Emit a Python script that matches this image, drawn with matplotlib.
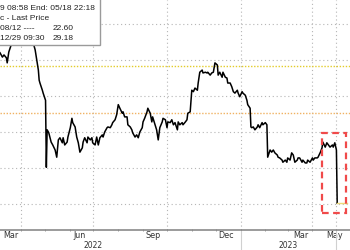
import matplotlib
matplotlib.use("Agg")
import matplotlib.pyplot as plt
import matplotlib.dates as mdates
import matplotlib.transforms as mtransforms
from matplotlib.patches import Rectangle
import pandas as pd

# price history (days counted from 2022-03-06)
start = pd.Timestamp("2022-03-06")
day_offsets = [0, 3, 5, 8, 9, 11, 14, 18, 23, 28, 33, 38, 41, 44, 46, 48, 49, 50, 53, 54,
               56, 57, 58, 59, 61, 64, 66, 69, 71, 73, 75, 78, 79, 81, 84, 85, 88, 90, 91,
               94, 96, 98, 100, 103, 104, 106, 109, 110, 113, 115, 116, 119, 121, 123,
               125, 128, 129, 131, 134, 135, 138, 140, 141, 144, 146, 148, 150, 153, 154,
               156, 159, 160, 163, 165, 166, 169, 171, 173, 175, 178, 179, 181, 184, 185,
               188, 190, 191, 194, 196, 198, 200, 203, 204, 207, 209, 210, 213, 215, 217,
               219, 222, 223, 225, 228, 229, 232, 234, 235, 238, 240, 242, 244, 247, 248,
               250, 253, 254, 257, 259, 260, 263, 265, 267, 269, 272, 273, 275, 278, 279,
               282, 284, 285, 288, 290, 292, 294, 297, 298, 300, 303, 304, 307, 309, 310,
               313, 314, 315, 317, 319, 322, 323, 325, 328, 329, 332, 334, 335, 338, 340,
               342, 344, 347, 348, 350, 353, 354, 357, 359, 360, 363, 365, 367, 369, 372,
               373, 375, 378, 379, 382, 384, 385, 388, 391, 392, 394, 397, 398, 401, 403,
               404, 407, 409, 411, 413, 416, 417, 419, 421, 422]
prices = [31.0, 30.4, 30.7, 30.3, 29.6, 31.1, 32.1, 33.1, 33.8, 34.2, 33.9, 33.3, 32.6, 31.4,
          30.0, 28.6, 27.2, 26.8, 25.8, 25.4,
          24.7, 24.4, 15.1, 20.3, 19.9, 18.6, 18.2, 17.5, 16.5, 18.9, 19.2, 18.5, 19.2,
          18.2, 18.6, 19.3, 20.6, 21.9, 21.3,
          20.7, 19.3, 18.5, 17.2, 17.8, 18.6, 19.2, 18.5, 19.3, 18.9, 19.2, 18.5, 18.2,
          19.3, 18.2,
          19.2, 19.6, 19.3, 20.0, 20.6, 20.7, 20.6, 21.0, 21.3, 21.7, 22.4, 23.8, 23.3,
          22.6, 22.8,
          22.1, 22.1, 21.0, 20.7, 20.3, 19.9, 19.3, 19.6, 19.2, 20.0, 20.6, 21.4, 21.9,
          22.8, 23.3,
          22.6, 21.4, 22.1, 21.0, 20.3, 18.9, 20.6, 21.4, 21.9, 21.7, 20.6, 21.4, 21.3,
          21.7, 21.0,
          21.3, 20.3, 21.4, 21.0, 21.3, 21.0, 21.4, 21.7, 22.6, 22.8, 25.8, 25.6, 26.1,
          25.8, 26.8,
          28.3, 28.6, 28.2, 28.3, 28.2, 28.3, 27.9, 28.2, 28.3, 29.6, 29.3, 27.9, 28.3,
          27.6, 28.3,
          27.6, 27.5, 26.8, 26.8, 26.3, 25.6, 25.4, 25.8, 25.4, 24.9, 25.6, 25.4, 25.1,
          24.4, 23.8,
          23.3, 20.7, 20.6, 20.7, 20.3, 20.7, 21.0, 20.6, 21.3, 21.0, 21.3, 21.0, 16.5,
          17.5, 17.2,
          17.5, 17.1, 16.8, 16.5, 16.4, 16.1, 15.8, 16.1, 15.8, 16.4, 16.1, 17.1, 16.8,
          15.8, 16.1,
          16.4, 16.4, 15.8, 16.1, 15.7, 15.7, 16.1, 15.8, 16.4, 16.1, 16.4, 16.4, 16.5,
          17.2, 17.8,
          18.6, 17.9, 18.5, 18.2, 17.9, 18.2, 17.9, 18.5, 17.5, 10.1]

dates = start + pd.to_timedelta(day_offsets, unit="D")

# reference lines from the legend
level_low = 22.60
level_high = 29.18
last_price = 10.1

# axis labels
month_labels = ["Mar", "Jun", "Sep", "Dec", "Mar", "May"]
month_label_dates = pd.to_datetime(["2022-03-19", "2022-06-14", "2022-09-14",
                                    "2022-12-14", "2023-03-17", "2023-04-29"])
year_labels = ["2022", "2023"]
year_label_dates = pd.to_datetime(["2022-06-30", "2023-03-01"])
vgrid_dates = pd.to_datetime(["2022-04-01", "2022-07-01", "2022-10-01",
                              "2023-01-01", "2023-04-01", "2023-05-01"])
year_sep_dates = pd.to_datetime(["2023-01-01", "2023-05-01"])
hgrid_values = [10, 15, 20, 25, 30, 35]

fig = plt.figure(figsize=(3.5, 2.5), dpi=100)
ax = fig.add_axes([0, 0.08, 1, 0.92])

ax.set_xlim(pd.Timestamp("2022-03-06"), pd.Timestamp("2023-05-18"))
ax.set_ylim(6.39, 38.33)

# gridlines
for v in hgrid_values:
    ax.axhline(v, color="#b5b5b5", lw=0.8, ls=(0, (1, 2.5)), zorder=1)
for d in vgrid_dates:
    ax.axvline(d, color="#b5b5b5", lw=0.8, ls=(0, (1, 2.5)), zorder=1)
ax.axhline(level_high, color="#e3cc2a", lw=1.0, ls=(0, (1, 1.2)), zorder=2)
ax.axhline(level_low, color="#f0b262", lw=1.0, ls=(0, (1, 1.2)), zorder=2)

# price line
ax.plot(dates, prices, color="black", lw=1.1, zorder=3)
ax.plot([dates[-1], pd.Timestamp("2023-05-14")], [last_price, last_price],
        color="#eedb7a", lw=1.0, zorder=3)

# red dashed highlight box
x0 = mdates.date2num(pd.Timestamp("2023-04-13"))
x1 = mdates.date2num(pd.Timestamp("2023-05-13"))
ax.add_patch(Rectangle((x0, 8.75), x1 - x0, 19.86 - 8.75, fill=False,
                       edgecolor="#f04a4a", lw=1.6, ls=(0, (3, 2)), zorder=4))

# axis styling
for s in ["top", "left", "right"]:
    ax.spines[s].set_visible(False)
ax.spines["bottom"].set_color("#8a8a8a")
ax.spines["bottom"].set_linewidth(1.2)
ax.set_yticks([])
ax.set_xticks(month_label_dates)
ax.set_xticklabels(month_labels)
ax.tick_params(axis="x", which="major", length=0, pad=1, labelsize=5.8, labelcolor="#333333")
ax.xaxis.set_minor_locator(mdates.MonthLocator())
ax.tick_params(axis="x", which="minor", length=2, width=0.6, color="#8a8a8a", direction="inout")

trans = mtransforms.blended_transform_factory(ax.transData, ax.transAxes)
for lbl, d in zip(year_labels, year_label_dates):
    ax.text(d, -0.069, lbl, transform=trans, ha="center", va="center",
            fontsize=5.5, color="#333333")
for d in year_sep_dates:
    ax.plot([d, d], [-0.005, -0.09], transform=trans, color="#d0d0d0", lw=0.8, clip_on=False)

# legend box, cropped on the left like the original
fig.patches.append(Rectangle((-0.05, 1 - 45 / 250), 0.05 + 100 / 350, 0.25, transform=fig.transFigure,
                             facecolor="white", edgecolor="#9a9a9a", lw=1.0, zorder=10))
legend_rows = [("9 08:58 End: 05/18 22:18", None, 9),
               ("c - Last Price", None, 19),
               ("08/12 ----", "22.60", 29),
               ("12/29 09:30", "29.18", 39)]
for left, right, ypx in legend_rows:
    fig.text(0.0, 1 - ypx / 250, left, ha="left", va="center", fontsize=6,
             family="Liberation Sans", color="#222222", zorder=11)
    if right:
        fig.text(53 / 350, 1 - ypx / 250, right, ha="left", va="center", fontsize=6,
                 family="Liberation Sans", color="#222222", zorder=11)

fig.savefig("out.png", dpi=100)
